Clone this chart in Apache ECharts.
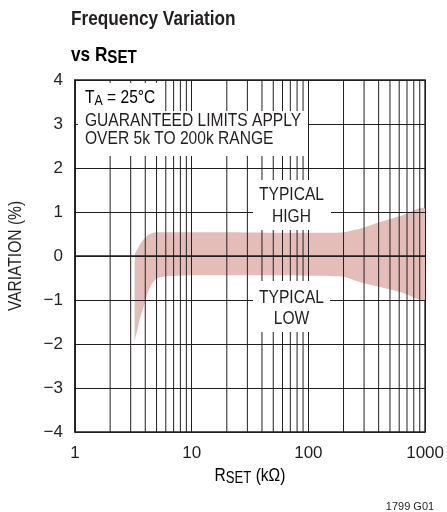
<!DOCTYPE html>
<html><head><meta charset="utf-8">
<script src="https://cdn.jsdelivr.net/npm/echarts@6/dist/echarts.min.js"></script>
<style>html,body{margin:0;padding:0;background:#fff}#c{width:447px;height:512px}</style>
</head><body><div id="c"></div>
<script>
// ---- data ----
const xTickLabels = [1, 10, 100, 1000];
const yTickLabels = [-4, -3, -2, -1, 0, 1, 2, 3, 4];
const xGridLines = [2,3,4,5,6,7,8,9,20,30,40,50,60,70,80,90,200,300,400,500,600,700,800,900];
const bandX    = [3.25, 3.3, 3.45, 3.6, 3.85, 4.2, 4.6, 5.0, 5.7, 10, 20, 50, 100, 170, 200, 300, 400, 630, 1000];
const bandHigh = [0.00, 0.08, 0.17, 0.26, 0.37, 0.47, 0.52, 0.54, 0.54, 0.54, 0.54, 0.53, 0.53, 0.53, 0.54, 0.65, 0.76, 0.92, 1.07];
const bandLow  = [-1.95, -1.85, -1.65, -1.42, -1.17, -0.84, -0.62, -0.51, -0.47, -0.44, -0.44, -0.44, -0.45, -0.46, -0.47, -0.62, -0.70, -0.83, -0.98];

function hasFont(name){
  const c = document.createElement('canvas').getContext('2d');
  const t = 'GUARANTEED LIMITS 0123 abc';
  c.font = '40px monospace'; const a = c.measureText(t).width;
  c.font = "40px '" + name + "', monospace"; const b = c.measureText(t).width;
  return Math.abs(a - b) > 0.5;
}
const NARROW = hasFont('Liberation Sans Narrow');
const FF = NARROW ? "'Liberation Sans Narrow', 'Liberation Sans', sans-serif" : "'Liberation Sans', Arial, sans-serif";
const SX = NARROW ? 1 : 0.82;   // horizontal condensing for the narrow look
const INK = '#231f20';
const BAND = '#e4bdb9';

const chart = echarts.init(document.getElementById('c'), null, {renderer: 'canvas'});
const bandData = bandX.map((x, i) => [x, bandLow[i], bandHigh[i]]);

function txt(x, y, text, size, opts) {
  opts = opts || {};
  return {type: 'text', x: x, y: y, z: 20, scaleX: SX, rotation: opts.rotation || 0,
    style: {text: text, fontFamily: FF, fontSize: size, fontWeight: opts.bold ? 'bold' : 'normal',
      fill: INK, align: opts.align || 'left', verticalAlign: 'middle'}};
}
function richTxt(x, y, text, rich, opts) {
  opts = opts || {};
  return {type: 'text', x: x, y: y, z: 20, scaleX: SX,
    style: {text: text, rich: rich, align: opts.align || 'left', verticalAlign: 'middle'}};
}

const option = {
  animation: false,
  backgroundColor: '#fff',
  grid: {left: 75, right: 20, top: 80, bottom: 80, show: true, borderColor: INK, borderWidth: 1.5, backgroundColor: 'transparent'},
  xAxis: {
    type: 'log', logBase: 10, min: 1, max: 1000, z: 4,
    axisLine: {show: true, lineStyle: {color: INK, width: 1.5}},
    axisTick: {show: false},
    splitLine: {show: true, lineStyle: {color: INK, width: 1}},
    axisLabel: {color: INK, fontFamily: FF, fontSize: 17, margin: 13,
      formatter: v => xTickLabels.indexOf(Math.round(v)) >= 0 ? String(Math.round(v)) : ''}
  },
  yAxis: {
    type: 'value', min: yTickLabels[0], max: yTickLabels[yTickLabels.length - 1], interval: 1, z: 4,
    axisLine: {show: true, lineStyle: {color: INK, width: 1.5}},
    axisTick: {show: false},
    splitLine: {show: true, lineStyle: {color: INK, width: 1}},
    axisLabel: {color: INK, fontFamily: FF, fontSize: 17, margin: 12,
      formatter: v => v < 0 ? '\u2212' + Math.abs(v) : String(v)}
  },
  series: [
    {
      type: 'custom', name: 'band', z: 1, clip: true, silent: true,
      data: bandData,
      encode: {x: 0, y: [1, 2]},
      renderItem: function (params, api) {
        if (params.dataIndex !== 0) return null;
        const pts = [];
        for (let i = 0; i < bandX.length; i++) pts.push(api.coord([bandX[i], bandHigh[i]]));
        for (let i = bandX.length - 1; i >= 0; i--) pts.push(api.coord([bandX[i], bandLow[i]]));
        return {type: 'polygon', shape: {points: pts, smooth: 0.25}, style: {fill: BAND, stroke: null}};
      }
    },
    {
      type: 'custom', name: 'grid', z: 3, silent: true,
      data: xGridLines.map(v => [v]),
      encode: {x: 0},
      renderItem: function (params, api) {
        const v = api.value(0);
        const p0 = api.coord([v, yTickLabels[0]]);
        const p1 = api.coord([v, yTickLabels[yTickLabels.length - 1]]);
        return {type: 'line', shape: {x1: p0[0], y1: p0[1], x2: p1[0], y2: p1[1]}, style: {stroke: INK, lineWidth: 1}};
      }
    }
  ],
  graphic: [
    // title
    txt(71, 19, 'Frequency Variation', 21, {bold: true}),
    richTxt(71, 55, '{a|vs R}{b|SET}', {
      a: {fontFamily: FF, fontWeight: 'bold', fontSize: 21, color: INK, lineHeight: 24},
      b: {fontFamily: FF, fontWeight: 'bold', fontSize: 18.5, color: INK, lineHeight: 19, verticalAlign: 'bottom'}
    }),
    // top-left notes box
    {type: 'rect', z: 10, shape: {x: 78, y: 83, width: 84, height: 29}, style: {fill: '#fff'}},
    {type: 'rect', z: 10, shape: {x: 78, y: 111, width: 230, height: 45}, style: {fill: '#fff'}},
    richTxt(85, 97.5, '{a|T}{b|A}{a| = 25°C}', {
      a: {fontFamily: FF, fontSize: 19, color: INK, lineHeight: 22},
      b: {fontFamily: FF, fontSize: 15, color: INK, lineHeight: 13, verticalAlign: 'bottom'}
    }),
    txt(85, 120.5, 'GUARANTEED LIMITS APPLY', 19),
    txt(85, 138.5, 'OVER 5k TO 200k RANGE', 19),
    // TYPICAL HIGH
    {type: 'rect', z: 10, shape: {x: 253, y: 180, width: 78, height: 50}, style: {fill: '#fff'}},
    txt(291.5, 194.5, 'TYPICAL', 19, {align: 'center'}),
    txt(291.5, 216.5, 'HIGH', 19, {align: 'center'}),
    // TYPICAL LOW
    {type: 'rect', z: 10, shape: {x: 253, y: 281, width: 77, height: 51}, style: {fill: '#fff'}},
    txt(291.5, 297.5, 'TYPICAL', 19, {align: 'center'}),
    txt(291.5, 318.5, 'LOW', 19, {align: 'center'}),
    // y-axis name
    txt(16, 256, 'VARIATION (%)', 19, {align: 'center', rotation: Math.PI / 2}),
    // x-axis name
    richTxt(250, 476, '{r|R}{s|SET}{r| (kΩ)}', {
      r: {fontFamily: FF, fontSize: 19, color: INK, lineHeight: 22},
      s: {fontFamily: FF, fontSize: 16, color: INK, lineHeight: 16, verticalAlign: 'bottom'}
    }, {align: 'center'}),
    // figure id
    {type: 'text', x: 410, y: 506.5, z: 20, style: {text: '1799 G01', fontFamily: FF, fontSize: 11, fill: INK, align: 'center', verticalAlign: 'middle'}}
  ]
};
chart.setOption(option);
</script>
</body></html>
